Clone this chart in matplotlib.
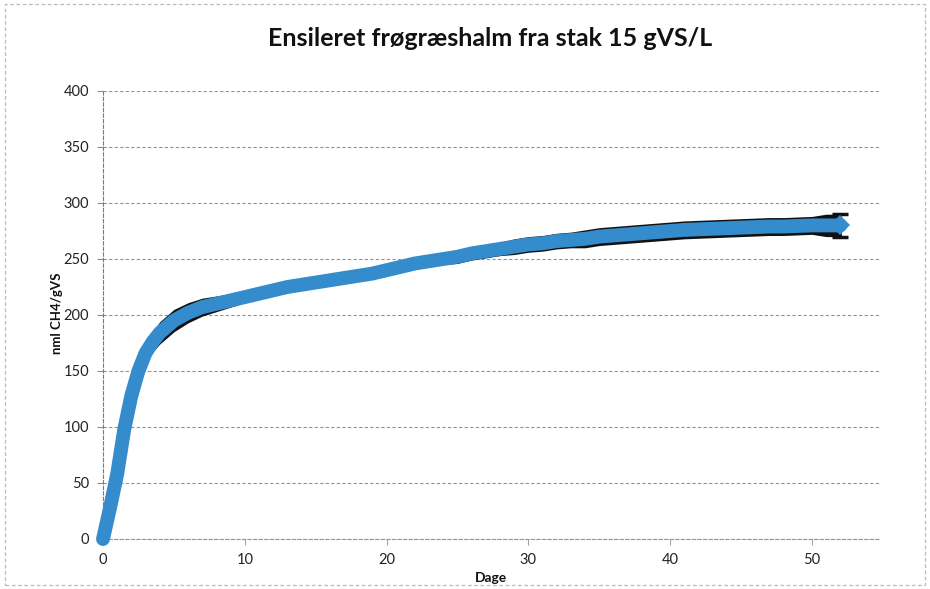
import matplotlib
matplotlib.use("Agg")
import matplotlib.pyplot as plt
from matplotlib.patches import Rectangle

# ---- data ----
days = [0, 0.5, 1, 1.5, 2, 2.5, 3, 3.5, 4, 5, 6, 7, 8, 9, 10, 11, 12, 13, 14, 15,
        16, 17, 18, 19, 20, 21, 22, 23, 24, 25, 26, 27, 28, 29, 30, 31, 32, 33,
        34, 35, 36, 37, 38, 39, 40, 41, 42, 43, 44, 45, 46, 47, 48, 49, 50, 51, 52]
methane = [0, 28, 58, 98, 128, 150, 166, 176, 184, 195, 202, 207, 210, 213, 216,
           219, 222, 225, 227, 229, 231, 233, 235, 237, 240, 243, 246, 248, 250,
           252, 255, 257, 259, 261, 263, 264, 266, 267, 268, 270, 271, 272, 273,
           274, 275, 276, 276.5, 277, 277.5, 278, 278.5, 279, 279, 279.5, 280,
           280, 280]
error = [0, 1, 2, 3, 4, 5, 7, 9, 10, 10, 9, 8, 7, 6, 5, 5, 5, 5, 5, 5,
         5, 5, 5, 5, 5, 5, 5, 5, 5, 6, 6, 6, 6, 7, 7, 7, 7, 7, 8, 8, 8, 8, 8,
         8, 8, 8, 8, 8, 8, 8, 8, 8, 8, 8, 8, 10, 10]

title = "Ensileret frøgræshalm fra stak 15 gVS/L"
xlabel = "Dage"
ylabel = "nml CH4/gVS"
yticks = [0, 50, 100, 150, 200, 250, 300, 350, 400]
xticks = [0, 10, 20, 30, 40, 50]

plt.rcParams['font.family'] = ['Lato', 'DejaVu Sans']

fig = plt.figure(figsize=(9.3, 5.89), dpi=100)
ax = fig.add_axes([103/930, 1-539/589, (880-103)/930, (539-91)/589])

# outer chart border
fig.patches.append(Rectangle((5/930, 4/589), 920/930, 581/589, transform=fig.transFigure,
                             fill=False, edgecolor='#b8bcc4', lw=0.9, linestyle=(0, (3, 2))))

lower = [m - e for m, e in zip(methane, error)]
upper = [m + e for m, e in zip(methane, error)]
ax.fill_between(days, lower, upper, color='#111111', lw=0, zorder=3)
ax.errorbar([days[-1]], [methane[-1]], yerr=[error[-1]], fmt='none', ecolor='#111111',
            elinewidth=2, capsize=6, capthick=2.5, zorder=3)
ax.plot(days, methane, color='#348ccd', lw=10, solid_capstyle='round',
        solid_joinstyle='round', zorder=4, clip_on=False)
ax.plot([days[-1]], [methane[-1]], linestyle='none', marker='D',
        markersize=10, color='#348ccd', markeredgewidth=0, zorder=4)

ax.set_xlim(0, 54.8)
ax.set_ylim(0, 400)
ax.set_yticks(yticks)
ax.set_xticks(xticks)
ax.tick_params(axis='both', labelsize=10.5, colors='#222222', length=4, width=0.8,
               direction='out')
ax.tick_params(axis='x', pad=6, color='#9aa6b6')
ax.tick_params(axis='y', color='#8090a0', pad=6)

ax.yaxis.grid(True, color='#8796aa', lw=0.8, linestyle=(0, (3, 2)))
ax.set_axisbelow(True)
for s in ['top', 'right']:
    ax.spines[s].set_visible(False)
ax.spines['left'].set_color('#6f7c8c')
ax.spines['left'].set_linestyle((0, (3, 2)))
ax.spines['left'].set_linewidth(0.8)
ax.spines['bottom'].set_color('#8a98aa')
ax.spines['bottom'].set_linestyle((0, (3, 2)))
ax.spines['bottom'].set_linewidth(0.8)

fig.text(490/930, 1-38/589, title, ha='center', va='center', fontsize=18,
         fontweight='bold', color='#111111')
ax.set_xlabel(xlabel, fontsize=10, fontweight='bold', labelpad=4, color='#111111')
fig.text(57/930, 1-313/589, ylabel, rotation=90, ha='center', va='center',
         fontsize=9.5, fontweight='bold', color='#111111')

fig.savefig("out.png", dpi=100)
